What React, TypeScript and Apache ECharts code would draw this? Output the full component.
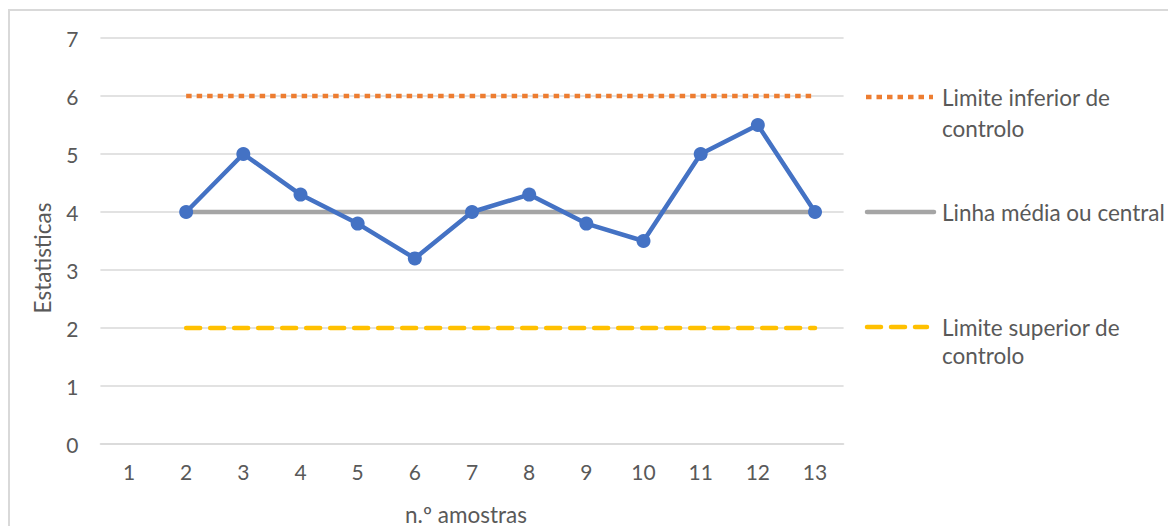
import React, { useEffect, useRef } from "react";
import * as echarts from "echarts";

const categories = ["1", "2", "3", "4", "5", "6", "7", "8", "9", "10", "11", "12", "13"];
const amostras = [null, 4, 5, 4.3, 3.8, 3.2, 4, 4.3, 3.8, 3.5, 5, 5.5, 4];
const limiteInferior = [null, 6, 6, 6, 6, 6, 6, 6, 6, 6, 6, 6, 6];
const linhaMedia = [null, 4, 4, 4, 4, 4, 4, 4, 4, 4, 4, 4, 4];
const limiteSuperior = [null, 2, 2, 2, 2, 2, 2, 2, 2, 2, 2, 2, 2];

const FONT = "Lato, 'Noto Sans', sans-serif";
const TXT = "#595959";

export default function App() {
  const ref = useRef<HTMLDivElement>(null);
  useEffect(() => {
    if (!ref.current) return;
    const chart = echarts.init(ref.current, null, { renderer: "svg" });
    const legendFont = `22.5px ${FONT}`;
    chart.setOption({
      animation: false,
      grid: { left: 90.4, top: 27, width: 743.2, height: 406 },
      xAxis: {
        type: "category",
        data: categories,
        boundaryGap: true,
        axisLine: { show: true, lineStyle: { color: "#D9D9D9", width: 1.5 } },
        axisTick: { show: false },
        axisLabel: { color: TXT, fontSize: 21, fontFamily: FONT, margin: 17 },
      },
      yAxis: {
        type: "value",
        min: 0,
        max: 7,
        interval: 1,
        axisLine: { show: false },
        axisTick: { show: false },
        axisLabel: { color: TXT, fontSize: 21, fontFamily: FONT, margin: 22 },
        splitLine: { lineStyle: { color: "#D9D9D9", width: 1.5 } },
      },
      series: [
        {
          name: "Limite inferior de controlo",
          type: "line",
          data: limiteInferior,
          symbol: "none",
          lineStyle: { color: "#ED7D31", width: 4.5, type: [5.5, 5], cap: "butt" },
          z: 2,
        },
        {
          name: "Linha média ou central",
          type: "line",
          data: linhaMedia,
          symbol: "none",
          lineStyle: { color: "#A5A5A5", width: 4.5, cap: "round" },
          z: 2,
        },
        {
          name: "Limite superior de controlo",
          type: "line",
          data: limiteSuperior,
          symbol: "none",
          lineStyle: { color: "#FFC000", width: 4.5, type: [14, 10], cap: "round" },
          z: 2,
        },
        {
          name: "Amostras",
          type: "line",
          data: amostras,
          symbol: "circle",
          symbolSize: 14,
          itemStyle: { color: "#4472C4" },
          lineStyle: { color: "#4472C4", width: 4.5 },
          z: 3,
        },
      ],
      graphic: [
        {
          type: "line",
          shape: { x1: 856, y1: 86, x2: 923, y2: 86 },
          style: { stroke: "#ED7D31", lineWidth: 4.5, lineDash: [5.5, 5] },
        },
        { type: "text", x: 932, y: 86, style: { text: "Limite inferior de", fill: TXT, font: legendFont, textVerticalAlign: "middle" } },
        { type: "text", x: 932, y: 117, style: { text: "controlo", fill: TXT, font: legendFont, textVerticalAlign: "middle" } },
        {
          type: "line",
          shape: { x1: 857, y1: 201, x2: 924, y2: 201 },
          style: { stroke: "#A5A5A5", lineWidth: 4.5, lineCap: "round" },
        },
        { type: "text", x: 932, y: 201, style: { text: "Linha média ou central", fill: TXT, font: legendFont, textVerticalAlign: "middle" } },
        {
          type: "line",
          shape: { x1: 857, y1: 316, x2: 917, y2: 316 },
          style: { stroke: "#FFC000", lineWidth: 4.5, lineDash: [14, 10], lineCap: "round" },
        },
        { type: "text", x: 932, y: 316, style: { text: "Limite superior de", fill: TXT, font: legendFont, textVerticalAlign: "middle" } },
        { type: "text", x: 932, y: 344, style: { text: "controlo", fill: TXT, font: legendFont, textVerticalAlign: "middle" } },
        {
          type: "text",
          x: 456,
          y: 503,
          style: { text: "n.º amostras", fill: TXT, font: legendFont, textAlign: "center", textVerticalAlign: "middle" },
        },
        {
          type: "text",
          x: 32,
          y: 247,
          rotation: Math.PI / 2,
          style: { text: "Estatisticas", fill: TXT, font: legendFont, textAlign: "center", textVerticalAlign: "middle" },
        },
      ],
    });
    return () => chart.dispose();
  }, []);
  return (
    <div
      style={{
        position: "relative",
        top: 1,
        width: 1180,
        height: 530,
        border: "2px solid #D9D9D9",
        background: "#fff",
      }}
    >
      <div ref={ref} style={{ width: 1180, height: 530 }} />
    </div>
  );
}
